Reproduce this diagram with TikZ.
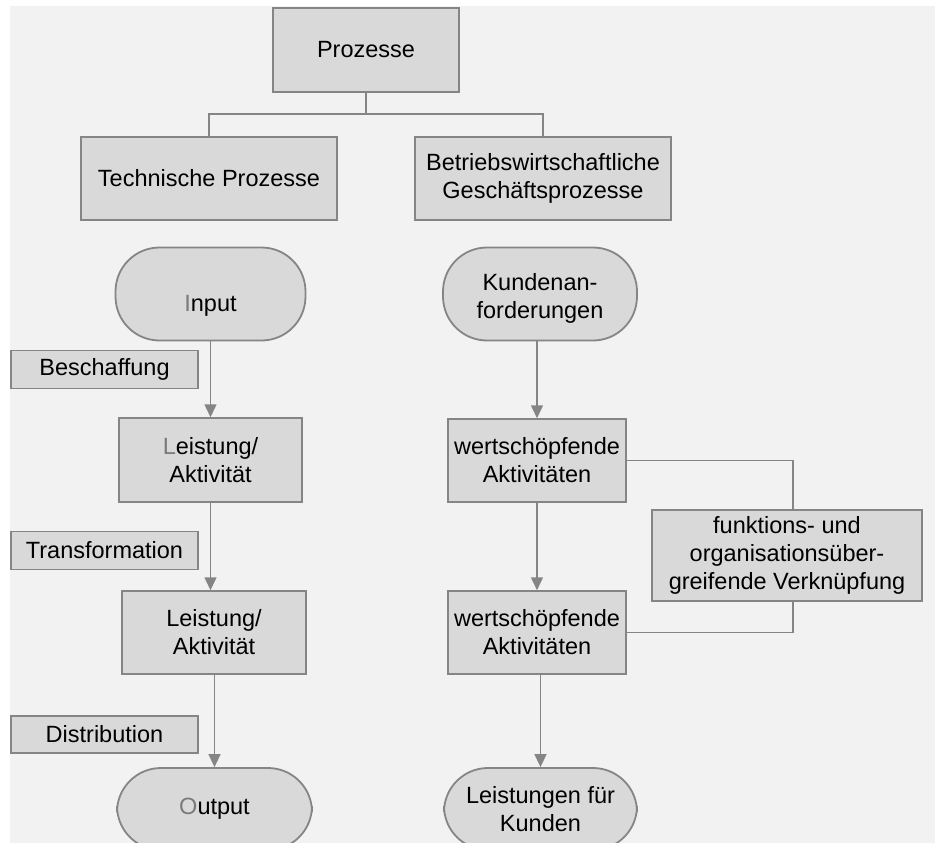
\documentclass[tikz,border=0pt]{standalone}
\usepackage{fontspec}
\setmainfont{Liberation Sans}
\usetikzlibrary{arrows.meta}
\definecolor{bgcol}{HTML}{F2F2F2}
\definecolor{boxfill}{HTML}{D9D9D9}
\definecolor{edgecol}{HTML}{858585}
\definecolor{initcol}{HTML}{7A7A7A}
% a zero-width strut that pushes a line of text downwards inside its node
\newcommand{\lowerby}[1]{\rule{0pt}{\dimexpr 17pt+2\dimexpr #1\relax\relax}}
\begin{document}
\begin{tikzpicture}[x=1pt,y=-1pt,
  every node/.style={font=\fontsize{23.5}{28}\selectfont, text=black, align=center, inner sep=0pt},
  box/.style={draw=edgecol, fill=boxfill, line width=1.5pt, rectangle},
  term/.style={draw=edgecol, fill=boxfill, line width=1.8pt, rectangle, rounded corners=44pt},
  tag/.style={draw=edgecol, fill=boxfill, line width=1.3pt, rectangle, minimum width=187pt, minimum height=38pt},
  link/.style={draw=edgecol, line width=1.5pt},
  arr/.style={link, -{Triangle[width=12pt,length=13pt]}}]
\useasboundingbox (0,0) rectangle (935,843);
\fill[white] (0,0) rectangle (935,843);
\fill[bgcol] (10,6) rectangle (935,843);
\begin{scope}
\clip (10,6) rectangle (935,843);

% hierarchy at the top
\node[box, minimum width=186pt, minimum height=84pt] (proz) at (366,50) {Prozesse};
\node[box, minimum width=256pt, minimum height=83pt] (tech) at (209,178.5) {Technische Prozesse};
\node[box, minimum width=256pt, minimum height=83pt] (bwl) at (543,178.5) {Betriebswirtschaftliche\\Geschäftsprozesse};
\coordinate (split) at (366,114);
\draw[link] (proz.south) -- (split) -| (tech.north);
\draw[link] (split) -| (bwl.north);

% technical process chain
\node[term, minimum width=190pt, minimum height=93pt] (input) at (210.5,294) {\lowerby{11pt}\textcolor{initcol}{I}nput};
\node[tag] (besch) at (104.5,369.5) {Beschaffung};
\node[box, minimum width=183pt, minimum height=84pt] (leist1) at (210.5,460) {\textcolor{initcol}{L}eistung/\\Aktivität};
\node[tag] (trans) at (104.5,550.5) {Transformation};
\node[box, minimum width=184pt, minimum height=83pt] (leist2) at (214,632.5) {Leistung/\\Aktivität};
\node[tag, minimum height=37pt] (distr) at (104.5,734.5) {Distribution};
\node[term, minimum width=195pt, minimum height=82pt] (output) at (214.5,809) {\textcolor{initcol}{O}utput};

\draw[arr] (input.south) -- (leist1.north);
\draw[arr] (leist1.south) -- (leist1.south |- leist2.north);
\draw[arr] (output.north |- leist2.south) -- (output.north);

% business process chain
\node[term, minimum width=194pt, minimum height=93pt] (kunden) at (540,294) {\lowerby{4pt}Kundenan-\\forderungen};
\node[box, minimum width=178pt, minimum height=83pt] (wert1) at (537,460.5) {wertschöpfende\\Aktivitäten};
\node[box, minimum width=178pt, minimum height=83pt] (wert2) at (537,632.5) {wertschöpfende\\Aktivitäten};
\node[box, minimum width=270pt, minimum height=91pt] (func) at (787,555.5) {funktions- und\\organisationsüber-\\greifende Verknüpfung};
\node[term, minimum width=193pt, minimum height=82pt] (leistk) at (540.5,809) {Leistungen für\\Kunden};

\draw[arr] (wert1.north |- kunden.south) -- (wert1.north);
\draw[arr] (wert1.south) -- (wert2.north);
\draw[arr] (leistk.north |- wert2.south) -- (leistk.north);
\draw[link] (wert1.east) -| ([xshift=6pt]func.north);
\draw[link] ([xshift=6pt]func.south) |- (wert2.east);
\end{scope}
\end{tikzpicture}
\end{document}
